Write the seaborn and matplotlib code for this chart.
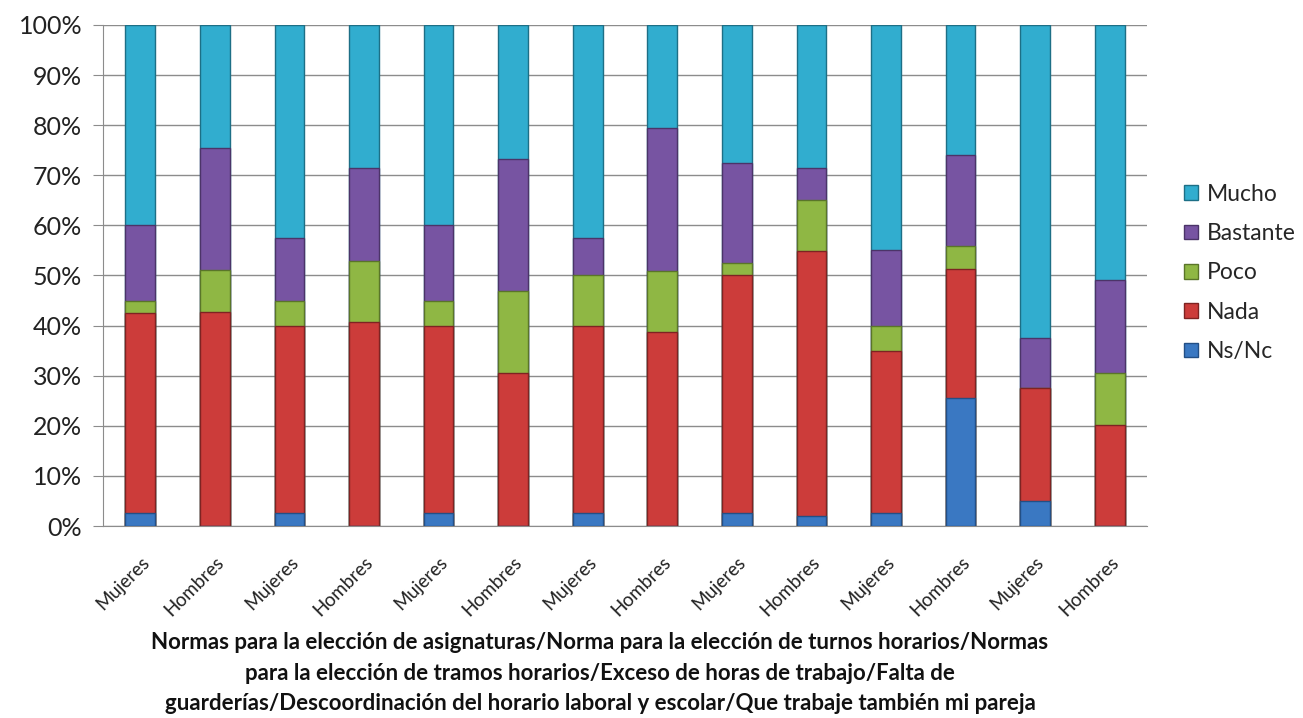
import numpy as np
import pandas as pd
import matplotlib.pyplot as plt
import seaborn as sns
from matplotlib.patches import Patch

# Data (percent per segment)
grupos = ['Mujeres', 'Hombres'] * 7
ns_nc = [2.5, 0, 2.5, 0, 2.5, 0, 2.5, 0, 2.5, 1.9, 2.5, 25.6, 5.0, 0]
nada = [40.0, 42.8, 37.5, 40.8, 37.5, 30.5, 37.5, 38.8, 47.5, 53.0, 32.5, 25.7, 22.5, 20.2]
poco = [2.5, 8.3, 5.0, 12.1, 5.0, 16.5, 10.0, 12.0, 2.5, 10.2, 5.0, 4.6, 0, 10.3]
bastante = [15.0, 24.3, 12.5, 18.5, 15.0, 26.3, 7.5, 28.7, 20.0, 6.3, 15.0, 18.2, 10.0, 18.6]
mucho = [40.0, 24.6, 42.5, 28.6, 40.0, 26.7, 42.5, 20.5, 27.5, 28.6, 45.0, 25.9, 62.5, 50.9]

series = ['Ns/Nc', 'Nada', 'Poco', 'Bastante', 'Mucho']
colores = {
    'Ns/Nc': '#3a78c2',
    'Nada': '#cc3c3a',
    'Poco': '#8fb744',
    'Bastante': '#7754a2',
    'Mucho': '#31adcf',
}
bordes = {
    'Ns/Nc': '#234f85',
    'Nada': '#7e2322',
    'Poco': '#5a7529',
    'Bastante': '#4b3468',
    'Mucho': '#1d6f86',
}

df = pd.DataFrame({'id': range(len(grupos)), 'Ns/Nc': ns_nc, 'Nada': nada,
                   'Poco': poco, 'Bastante': bastante, 'Mucho': mucho})
acum = df[series].cumsum(axis=1)

sns.set_style('white')
plt.rcParams['font.family'] = ['Lato', 'DejaVu Sans']

fig = plt.figure(figsize=(13.03, 7.18), dpi=100)
ax = fig.add_axes([103 / 1303, 192 / 718, 1044 / 1303, 501 / 718])

# stacked bars: draw the tallest cumulative first, then cover it
for s in reversed(series):
    sns.barplot(x=df['id'], y=acum[s], color=colores[s], width=0.4, ax=ax,
                edgecolor=bordes[s], linewidth=1, saturation=1, zorder=3)

ax.set_ylim(0, 100)
ax.set_xlim(-0.5, len(grupos) - 0.5)
ax.set_yticks(np.arange(0, 101, 10))
ax.set_yticklabels([f'{v}%' for v in range(0, 101, 10)], fontsize=18, color='#222222')
ax.set_xticks(range(len(grupos)))
ax.set_xticklabels(grupos, rotation=45, ha='right', rotation_mode='anchor',
                   fontsize=13.5, color='#222222')
ax.set_xticks(np.arange(-0.5, len(grupos), 1), minor=True)
ax.tick_params(axis='x', which='major', length=0, pad=20)
ax.tick_params(axis='x', which='minor', length=7, color='#8c8c8c')
ax.tick_params(axis='y', length=7, color='#8c8c8c', left=True, pad=8)
ax.set_xlabel('')
ax.set_ylabel('')

ax.yaxis.grid(True, color='#8c8c8c', linewidth=1)
ax.set_axisbelow(True)
for side in ['top', 'right']:
    ax.spines[side].set_visible(False)
for side in ['left', 'bottom']:
    ax.spines[side].set_color('#8c8c8c')

handles = [Patch(facecolor=colores[s], edgecolor=bordes[s], label=s) for s in reversed(series)]
fig.legend(handles=handles, loc='center left', bbox_to_anchor=(1175 / 1303, 1 - 273 / 718),
           frameon=False, fontsize=16.5, handlelength=0.6, handleheight=0.6,
           handletextpad=0.4, labelspacing=0.8, borderaxespad=0)

titulo = ('Normas para la elección de asignaturas/Norma para la elección de turnos horarios/Normas\n'
          'para la elección de tramos horarios/Exceso de horas de trabajo/Falta de\n'
          'guarderías/Descoordinación del horario laboral y escolar/Que trabaje también mi pareja')
fig.text(600 / 1303, 1 - 673 / 718, titulo, ha='center', va='center', fontsize=16,
         fontweight='bold', linespacing=1.55, color='#111111')

fig.savefig('out.png', dpi=100)
